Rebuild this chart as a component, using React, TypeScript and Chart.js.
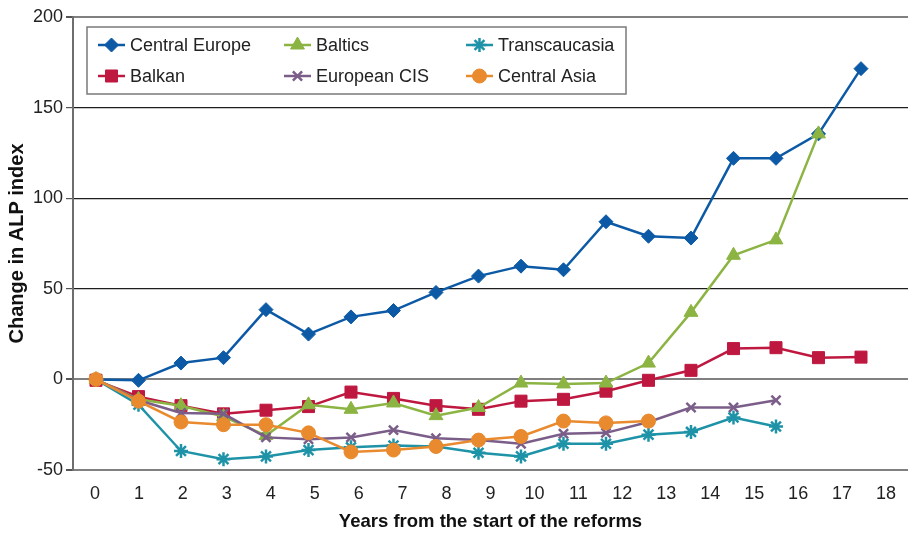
import React, { useEffect, useRef } from 'react';
import { Chart, registerables } from 'chart.js';
import { drawPoint } from 'chart.js/helpers';

Chart.register(...registerables);

// Years since the start of the reforms (category labels on the x axis)
const years = [0, 1, 2, 3, 4, 5, 6, 7, 8, 9, 10, 11, 12, 13, 14, 15, 16, 17, 18];
const yearLabels = years.map(String);

// Change in ALP index by region group
const centralEurope = [0, -0.5, 9, 12, 38.5, 25, 34.5, 38, 48, 57, 62.5, 60.5, 87, 79, 78, 122, 122, 135.5, 171.5];
const balkan = [-0.5, -9.5, -14.5, -19, -17, -15, -7, -10.5, -14.5, -16.5, -12, -11, -6.5, -0.5, 5, 17, 17.5, 12, 12.3];
const baltics = [0, -11, -14.5, -20.5, -31, -14, -16.5, -13, -20, -15.5, -2, -2.5, -2, 9, 37, 68.5, 77, 135.5];
const europeanCIS = [0, -11.5, -18.5, -19, -32, -33, -32, -28, -32.5, -33.5, -35.5, -30, -29.5, -23.5, -15.5, -15.5, -11.5];
const transcaucasia = [0, -14, -39.5, -44, -42.5, -39, -37.5, -36.5, -37, -40.5, -42.5, -35.5, -35.5, -30.5, -29, -21, -26];
const centralAsia = [0, -12, -23.5, -25, -25, -29.5, -40, -39, -37, -33.5, -31.5, -23, -24, -23];

const yTicks = [-50, 0, 50, 100, 150, 200];

const FONT = '"Liberation Sans", Arial, Helvetica, sans-serif';

type SeriesDef = {
  label: string;
  values: number[];
  color: string;
  pointStyle: string;
  radius: number;
  stroke?: boolean;
};

const series: SeriesDef[] = [
  { label: 'Central Europe', values: centralEurope, color: '#0c5aa6', pointStyle: 'rectRot', radius: 7 },
  { label: 'Balkan', values: balkan, color: '#bf1840', pointStyle: 'rect', radius: 8.5 },
  { label: 'Baltics', values: baltics, color: '#8cb443', pointStyle: 'triangle', radius: 8 },
  { label: 'European CIS', values: europeanCIS, color: '#7a5d88', pointStyle: 'crossRot', radius: 6.5, stroke: true },
  { label: 'Transcaucasia', values: transcaucasia, color: '#1e93a8', pointStyle: 'star', radius: 7, stroke: true },
  { label: 'Central Asia', values: centralAsia, color: '#e98a2e', pointStyle: 'circle', radius: 7 },
];

// Boxed legend laid out in three columns of two rows, inside the plot
const boxLegend = {
  id: 'boxLegend',
  afterDraw(chart: any) {
    const ctx: CanvasRenderingContext2D = chart.ctx;
    const box = { left: 87, top: 27, width: 539, height: 67 };
    const colX = [98, 284, 466];
    const rowY = [45, 76];
    ctx.save();
    ctx.fillStyle = '#ffffff';
    ctx.fillRect(box.left, box.top, box.width, box.height);
    ctx.strokeStyle = '#7a7a7a';
    ctx.lineWidth = 1.5;
    ctx.strokeRect(box.left, box.top, box.width, box.height);
    chart.data.datasets.forEach((ds: any, i: number) => {
      const x0 = colX[Math.floor(i / 2)];
      const y = rowY[i % 2];
      ctx.strokeStyle = ds.borderColor;
      ctx.lineWidth = ds.borderWidth;
      ctx.beginPath();
      ctx.moveTo(x0, y);
      ctx.lineTo(x0 + 27, y);
      ctx.stroke();
      ctx.fillStyle = ds.pointBackgroundColor;
      ctx.strokeStyle = ds.pointBorderColor;
      ctx.lineWidth = ds.pointBorderWidth;
      drawPoint(ctx, {
        pointStyle: ds.pointStyle,
        radius: ds.pointRadius,
        rotation: 0,
        borderWidth: ds.pointBorderWidth,
      } as any, x0 + 13.5, y);
      ctx.fillStyle = '#222222';
      ctx.font = `18px ${FONT}`;
      ctx.textBaseline = 'middle';
      ctx.textAlign = 'left';
      ctx.fillText(ds.label, x0 + 32, y + 1);
    });
    ctx.restore();
  },
};

export default function App() {
  const canvasRef = useRef<HTMLCanvasElement | null>(null);

  useEffect(() => {
    const canvas = canvasRef.current;
    if (!canvas) return;

    const datasets = series.map((s, i) => ({
      label: s.label,
      data: s.values.map((v, k) => ({ x: years[k], y: v })),
      xAxisID: 'xd',
      yAxisID: 'y',
      borderColor: s.color,
      backgroundColor: s.color,
      borderWidth: 2.5,
      pointStyle: s.pointStyle,
      pointRadius: s.radius,
      pointHoverRadius: s.radius,
      pointBackgroundColor: s.color,
      pointBorderColor: s.color,
      pointBorderWidth: s.stroke ? 2.5 : 1,
      tension: 0,
      fill: false,
      order: series.length - i,
    }));

    const isFrame = (v: number) => v === 0 || v === 200 || v === -50;

    const chart = new Chart(canvas, {
      type: 'line',
      data: { datasets: datasets as any },
      options: {
        animation: false,
        responsive: false,
        events: [],
        layout: { autoPadding: false, padding: { top: 17, right: 1, left: 0, bottom: 0 } },
        plugins: {
          legend: { display: false },
          tooltip: { enabled: false },
        },
        scales: {
          x: {
            type: 'category',
            labels: yearLabels,
            position: 'bottom',
            offset: true,
            grid: { display: false, drawTicks: false },
            border: { display: false },
            ticks: {
              color: '#222222',
              font: { family: FONT, size: 18 },
              padding: 13,
              maxRotation: 0,
              autoSkip: false,
            },
            title: {
              display: true,
              text: 'Years from the start of the reforms',
              color: '#111111',
              font: { family: FONT, size: 18.5, weight: 'bold' },
              padding: { top: 0, bottom: 0 },
            },
            afterFit: (scale: any) => {
              scale.height = 63;
              scale.paddingLeft = 0;
              scale.paddingRight = 0;
            },
          },
          xd: {
            type: 'linear',
            display: false,
            min: -0.541,
            max: 19.106,
          },
          y: {
            type: 'linear',
            min: -50,
            max: 200,
            afterBuildTicks: (scale: any) => {
              scale.ticks = yTicks.map((v) => ({ value: v }));
            },
            grid: {
              color: (c: any) => (isFrame(c.tick?.value) ? '#808080' : '#1e1e1e'),
              lineWidth: (c: any) => (isFrame(c.tick?.value) ? 2 : 1.2),
              tickColor: '#555555',
              tickLength: 7,
            },
            border: { display: true, color: '#6e6e6e', width: 2 },
            ticks: {
              color: '#222222',
              font: { family: FONT, size: 18 },
              padding: 3,
            },
            title: {
              display: true,
              text: 'Change in ALP index',
              color: '#111111',
              font: { family: FONT, size: 20, weight: 'bold' },
              padding: { top: 5, bottom: 0 },
            },
            afterFit: (scale: any) => {
              scale.width = 73;
            },
          },
        },
      },
      plugins: [boxLegend],
    });

    return () => chart.destroy();
  }, []);

  return (
    <canvas
      ref={canvasRef}
      width={909}
      height={533}
      style={{ position: 'absolute', left: 0, top: 0, display: 'block' }}
    />
  );
}
